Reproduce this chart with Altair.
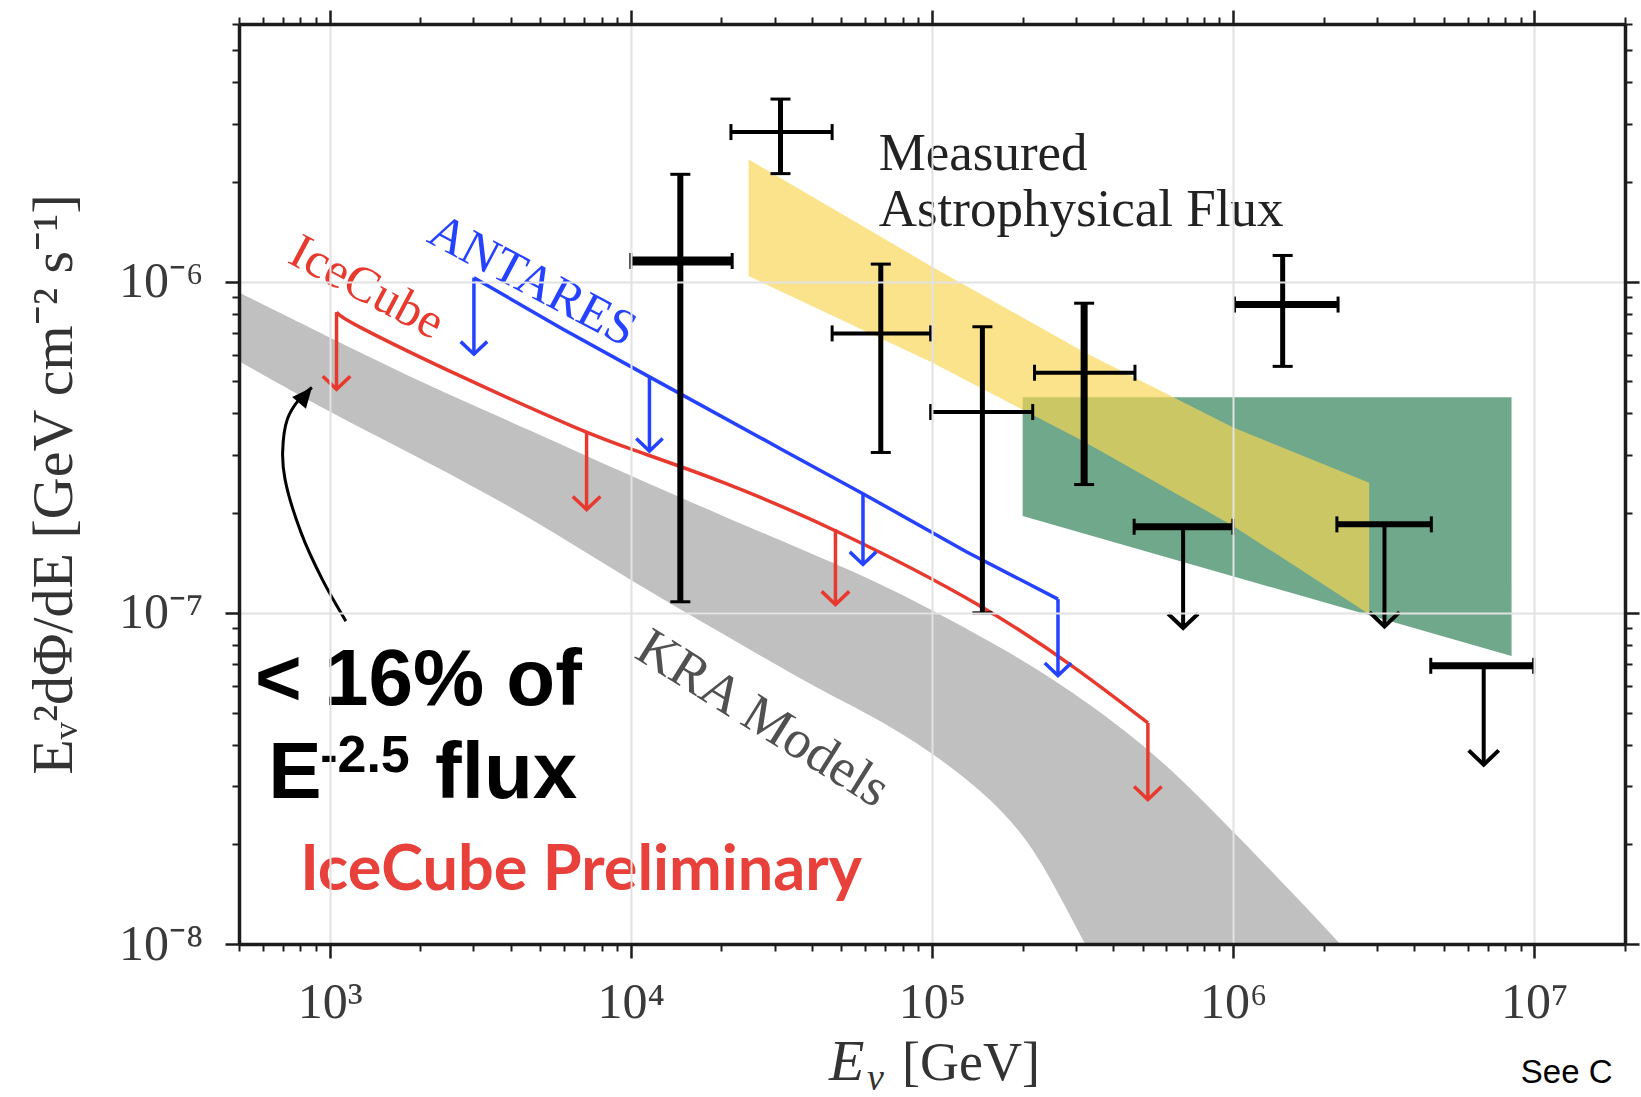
import altair as alt
import pandas as pd

# ---------------- data ----------------
# KRA models band (gray): energy [GeV], upper / lower edge of E^2 dPhi/dE
kra_E = [500, 1000, 2138, 4571, 1.0e4, 2.0e4, 3.98e4, 6.31e4, 1.0e5, 1.58e5, 2.24e5, 3.16e5, 5.62e5,
         1.0e6, 2.29e6, 3.16e6]
kra_hi = [9.27e-7, 6.78e-7, 4.84e-7, 3.58e-7, 2.59e-7, 1.97e-7, 1.51e-7, 1.26e-7, 1.02e-7, 8.13e-8, 6.76e-8,
          5.5e-8, 3.72e-8, 2.19e-8, 1.0e-8, 7.1e-9]
kra_lo = [5.75e-7, 4.03e-7, 2.84e-7, 1.96e-7, 1.25e-7, 8.7e-8, 6.03e-8, 4.9e-8, 3.8e-8, 2.75e-8, 1.91e-8,
          1.02e-8, 4.0e-9, 1.6e-9, 5.0e-10, 3.2e-10]

# IceCube upper limit (red)
ic_E = [1054, 1132, 2754, 7079, 1.0e4, 2.0e4, 4.68e4, 1.51e5, 3.13e5, 5.21e5]
ic_F = [8.09e-7, 7.6e-7, 5.13e-7, 3.5e-7, 3.12e-7, 2.51e-7, 1.81e-7, 1.05e-7, 6.65e-8, 4.65e-8]
ic_arrow_E = [1054, 7130, 4.78e4, 5.21e5]
ic_arrow_top = [8.09e-7, 3.49e-7, 1.79e-7, 4.65e-8]
ic_arrow_tip = [4.73e-7, 2.05e-7, 1.06e-7, 2.73e-8]

# ANTARES upper limit (blue)
an_E = [3013, 5916, 1.153e4, 3.16e4, 5.9e4, 1.3e5, 2.62e5]
an_F = [1.028e-6, 7.21e-7, 5.16e-7, 3.12e-7, 2.29e-7, 1.53e-7, 1.10e-7]
an_arrow_E = [3013, 1.153e4, 5.9e4, 2.62e5]
an_arrow_top = [1.028e-6, 5.16e-7, 2.29e-7, 1.10e-7]
an_arrow_tip = [6.04e-7, 3.08e-7, 1.40e-7, 6.47e-8]

# measured astrophysical flux points (black crosses)
hese_E = [1.46e4, 3.14e4, 6.76e4, 1.47e5, 3.2e5, 1.46e6]
hese_Elo = [1.0e4, 2.15e4, 4.66e4, 9.9e4, 2.19e5, 1.01e6]
hese_Ehi = [2.17e4, 4.66e4, 9.9e4, 2.16e5, 4.72e5, 2.23e6]
hese_F = [1.155e-6, 2.83e-6, 6.98e-7, 4.04e-7, 5.31e-7, 8.53e-7]
hese_Flo = [1.08e-7, 2.12e-6, 3.05e-7, 1.0e-7, 2.44e-7, 5.55e-7]
hese_Fhi = [2.11e-6, 3.56e-6, 1.13e-6, 7.31e-7, 8.61e-7, 1.2e-6]

# upper limits (black T with arrow)
ul_E = [6.82e5, 3.18e6, 6.79e6]
ul_Elo = [4.69e5, 2.21e6, 4.53e6]
ul_Ehi = [9.98e5, 4.55e6, 9.95e6]
ul_F = [1.82e-7, 1.85e-7, 6.92e-8]
ul_tip = [9.0e-8, 9.1e-8, 3.48e-8]

# measured astrophysical flux band (yellow)
astro_E = [2.46e4, 1.0e5, 3.16e5, 1.0e6, 2.83e6]
astro_hi = [2.34e-6, 1.11e-6, 6.17e-7, 3.63e-7, 2.47e-7]
astro_lo = [1.04e-6, 5.7e-7, 3.31e-7, 1.83e-7, 9.9e-8]

# second flux band (green)
green_E = [2.0e5, 8.4e6]
green_hi = [4.48e-7, 4.48e-7]
green_lo = [1.96e-7, 7.41e-8]

# curved pointer arrow
curve_E = [1132, 946, 803, 711, 698, 724, 793, 873]
curve_F = [9.44e-8, 1.26e-7, 1.75e-7, 2.53e-7, 3.05e-7, 3.85e-7, 4.42e-7, 4.79e-7]

# annotations (text, energy, flux)
txt_measured = ["Measured", "Astrophysical Flux"]
txt_measured_E = [6.65e4, 6.65e4]
txt_measured_F = [2.18e-6, 1.47e-6]

# ---------------- styles (not data) ----------------
hese_hbar_w = [9, 4, 4, 4, 4, 7]
hese_vbar_w = [6, 5, 5, 5, 7, 5]
ul_hbar_w = [7, 6, 7]

RED = "#e8392f"
BLUE = "#2442ff"
SERIF = "Liberation Serif"
SANS = "Liberation Sans"
INK = "#1c1c1c"

xs = alt.Scale(type="log", domain=[500, 2e7], nice=False)
ys = alt.Scale(type="log", domain=[1e-8, 6e-6], nice=False)


def X(f, axis=None):
    return alt.X(f"{f}:Q", scale=xs, axis=axis)


def Y(f, axis=None):
    return alt.Y(f"{f}:Q", scale=ys, axis=axis)


major_x = [1e3, 1e4, 1e5, 1e6, 1e7]
minor_x = [m * 10.0 ** k for k in range(2, 8) for m in range(2, 10) if 500 <= m * 10.0 ** k <= 2e7]
major_y = [1e-8, 1e-7, 1e-6]
minor_y = [m * 10.0 ** k for k in range(-8, -5) for m in range(2, 10) if m * 10.0 ** k <= 6.0001e-6]

SUP = "⁰¹²³⁴⁵⁶⁷⁸⁹"
x_label = f"'10' + substring('{SUP}', round(log(datum.value)/LN10), round(log(datum.value)/LN10) + 1)"
y_label = f"'10⁻' + substring('{SUP}', -round(log(datum.value)/LN10), 1 - round(log(datum.value)/LN10))"

common_major = dict(tickSize=14, tickWidth=2.5, tickColor=INK, domainColor=INK, domainWidth=3.5, zindex=1)
common_minor = dict(tickSize=7, tickWidth=2, tickColor=INK, domain=False, grid=False, labels=False,
                    title="", zindex=1)

ax_bottom = alt.Axis(orient="bottom", values=major_x, labelExpr=x_label, labelFont=SERIF, labelFontSize=50,
                     labelColor="#3a3a3a", labelPadding=19, labelFlush=False, labelOverlap=False,
                     grid=True, gridColor="#e2e2e2", gridWidth=2, title="", **common_major)
ax_left = alt.Axis(orient="left", values=major_y, labelExpr=y_label, labelFont=SERIF, labelFontSize=50,
                   labelColor="#3a3a3a", labelPadding=22, labelFlush=False, labelOverlap=False,
                   labelBaseline="middle", grid=True, gridColor="#e2e2e2", gridWidth=2,
                   title="Eᵥ²dΦ/dE [GeV cm⁻² s⁻¹]", titleFont=SERIF, titleFontSize=58,
                   titleFontWeight="normal", titleColor="#333333", titleAngle=270, titleX=-168, titleY=460,
                   titleAlign="center", titleBaseline="alphabetic", **common_major)
ax_top = alt.Axis(orient="top", values=major_x, labels=False, grid=False, title="", **common_major)
ax_right = alt.Axis(orient="right", values=major_y, labels=False, grid=False, title="", **common_major)
ax_bottom_minor = alt.Axis(orient="bottom", values=minor_x, **common_minor)
ax_left_minor = alt.Axis(orient="left", values=minor_y, **common_minor)
ax_top_minor = alt.Axis(orient="top", values=minor_x, **common_minor)
ax_right_minor = alt.Axis(orient="right", values=minor_y, **common_minor)

layers = []

# gray KRA band
band = pd.DataFrame({"x": kra_E, "hi": kra_hi, "lo": kra_lo})
layers.append(alt.Chart(band).mark_area(color="#c0c0c0", clip=True, interpolate="basis").encode(
    x=X("x", ax_bottom), y=Y("hi", ax_left), y2=alt.Y2("lo:Q")))

# green band
gdf = pd.DataFrame({"x": green_E, "hi": green_hi, "lo": green_lo})
layers.append(alt.Chart(gdf).mark_area(color="#70a88c").encode(
    x=X("x", ax_bottom_minor), y=Y("hi", ax_left_minor), y2=alt.Y2("lo:Q")))

# yellow band
ydf = pd.DataFrame({"x": astro_E, "hi": astro_hi, "lo": astro_lo})
layers.append(alt.Chart(ydf).mark_area(color="#f8d653", opacity=0.68).encode(
    x=X("x", ax_top), y=Y("hi", ax_right), y2=alt.Y2("lo:Q")))

VSHAPE = "M -1 -0.95 L 0 0 L 1 -0.95"


def arrows(E, top, tip, color, width, head_size):
    df = pd.DataFrame({"x": E, "top": top, "tip": tip})
    shaft = alt.Chart(df).mark_rule(color=color, strokeWidth=width).encode(
        x=X("x"), y=Y("top"), y2=alt.Y2("tip:Q"))
    head = alt.Chart(df).mark_point(shape=VSHAPE, filled=False, color=color, strokeWidth=width,
                                    size=head_size, opacity=1, strokeJoin="miter").encode(
        x=X("x"), y=Y("tip"))
    return [shaft, head]


# red IceCube limit
rdf = pd.DataFrame({"x": ic_E, "y": ic_F})
layers.append(alt.Chart(rdf).mark_line(color=RED, strokeWidth=3.5, interpolate="basis").encode(
    x=X("x", ax_top_minor), y=Y("y", ax_right_minor)))
layers += arrows(ic_arrow_E, ic_arrow_top, ic_arrow_tip, RED, 3.5, 760)

# blue ANTARES limit
bdf = pd.DataFrame({"x": an_E, "y": an_F})
layers.append(alt.Chart(bdf).mark_line(color=BLUE, strokeWidth=3.5).encode(x=X("x"), y=Y("y")))
layers += arrows(an_arrow_E, an_arrow_top, an_arrow_tip, BLUE, 3.5, 700)

# black crosses
hb = pd.DataFrame({"x1": hese_Elo, "x2": hese_Ehi, "y": hese_F, "w": hese_hbar_w})
layers.append(alt.Chart(hb).mark_rule(color="black").encode(
    x=X("x1"), x2=alt.X2("x2:Q"), y=Y("y"), strokeWidth=alt.StrokeWidth("w:Q", scale=None)))
vb = pd.DataFrame({"x": hese_E, "y1": hese_Flo, "y2": hese_Fhi, "w": hese_vbar_w})
layers.append(alt.Chart(vb).mark_rule(color="black").encode(
    x=X("x"), y=Y("y1"), y2=alt.Y2("y2:Q"), strokeWidth=alt.StrokeWidth("w:Q", scale=None)))
vcaps = pd.DataFrame({"x": hese_E * 2, "y": hese_Flo + hese_Fhi})
layers.append(alt.Chart(vcaps).mark_rule(color="black", strokeWidth=3, xOffset=-10, x2Offset=10).encode(
    x=X("x"), x2=alt.X2("x:Q"), y=Y("y")))
hcaps = pd.DataFrame({"x": hese_Elo + hese_Ehi + ul_Elo + ul_Ehi, "y": hese_F * 2 + ul_F * 2})
layers.append(alt.Chart(hcaps).mark_rule(color="black", strokeWidth=3, yOffset=-8, y2Offset=8).encode(
    x=X("x"), y=Y("y"), y2=alt.Y2("y:Q")))

# upper limits
ub = pd.DataFrame({"x1": ul_Elo, "x2": ul_Ehi, "y": ul_F, "w": ul_hbar_w})
layers.append(alt.Chart(ub).mark_rule(color="black").encode(
    x=X("x1"), x2=alt.X2("x2:Q"), y=Y("y"), strokeWidth=alt.StrokeWidth("w:Q", scale=None)))
layers += arrows(ul_E, ul_F, ul_tip, "black", 4, 900)

# curved pointer
cdf = pd.DataFrame({"x": curve_E, "y": curve_F, "i": list(range(len(curve_E)))})
layers.append(alt.Chart(cdf).mark_line(color="black", strokeWidth=3, interpolate="catmull-rom").encode(
    x=X("x"), y=Y("y"), order=alt.Order("i:Q")))
hdf = pd.DataFrame({"x": curve_E[-1:], "y": curve_F[-1:]})
layers.append(alt.Chart(hdf).mark_point(shape="M 0 0 L -0.45 1 L 0.45 1 Z", filled=True, color="black",
                                        size=1600, angle=40, opacity=1).encode(x=X("x"), y=Y("y")))


def texts(t, E, F, **kw):
    df = pd.DataFrame({"t": t, "x": E, "y": F})
    return alt.Chart(df).mark_text(**kw).encode(x=X("x"), y=Y("y"), text=alt.Text("t:N"))


layers.append(texts(txt_measured, txt_measured_E, txt_measured_F, font=SERIF, fontSize=53, color="#222222",
                    align="left", baseline="alphabetic"))
layers.append(texts(["ANTARES"], [4706], [1.005e-6], font=SERIF, fontSize=50, color=BLUE, angle=28,
                    align="center", baseline="middle"))
layers.append(texts(["IceCube"], [1327], [9.6e-7], font=SERIF, fontSize=50, color=RED, angle=28,
                    align="center", baseline="middle"))
layers.append(texts(["KRA Models"], [2.74e4], [4.78e-8], font=SERIF, fontSize=54, color="#505050", angle=32,
                    align="center", baseline="middle"))
layers.append(texts(["< 16% of", "E", "flux"], [565, 625, 2239], [5.28e-8, 2.76e-8, 2.76e-8], font=SANS,
                    fontSize=80, fontWeight="bold", color="black", align="left", baseline="alphabetic"))
layers.append(texts(["-2.5"], [930], [3.30e-8], font=SANS, fontSize=52, fontWeight="bold", color="black",
                    align="left", baseline="alphabetic"))
layers.append(texts(["IceCube Preliminary"], [798], [1.46e-8], font="Lato", fontSize=63, fontWeight="bold",
                    color="#e8413b", align="left", baseline="alphabetic"))
layers.append(texts(["See C"], [9.02e6], [3.81e-9], font="Liberation Sans Narrow, Liberation Sans",
                    fontSize=33, color="black", align="left", baseline="alphabetic"))
# x axis title pieces
layers.append(texts(["E"], [4.55e4], [3.89e-9], font=SERIF, fontSize=58, fontStyle="italic", color="#333333",
                    align="left", baseline="alphabetic"))
layers.append(texts(["ν"], [6.08e4], [3.63e-9], font=SERIF, fontSize=38, fontStyle="italic", color="#333333",
                    align="left", baseline="alphabetic"))
layers.append(texts(["[GeV]"], [7.95e4], [3.89e-9], font=SERIF, fontSize=54, color="#333333",
                    align="left", baseline="alphabetic"))

chart = alt.layer(*layers).resolve_scale(x="shared", y="shared").resolve_axis(
    x="independent", y="independent").properties(
    width=1386, height=920,
    autosize=alt.AutoSizeParams(type="none"),
    padding={"left": 239, "top": 24, "right": 16, "bottom": 153},
    background="white",
).configure_view(stroke=None)

chart.save("out.html", embed_options={"renderer": "svg", "actions": False})
